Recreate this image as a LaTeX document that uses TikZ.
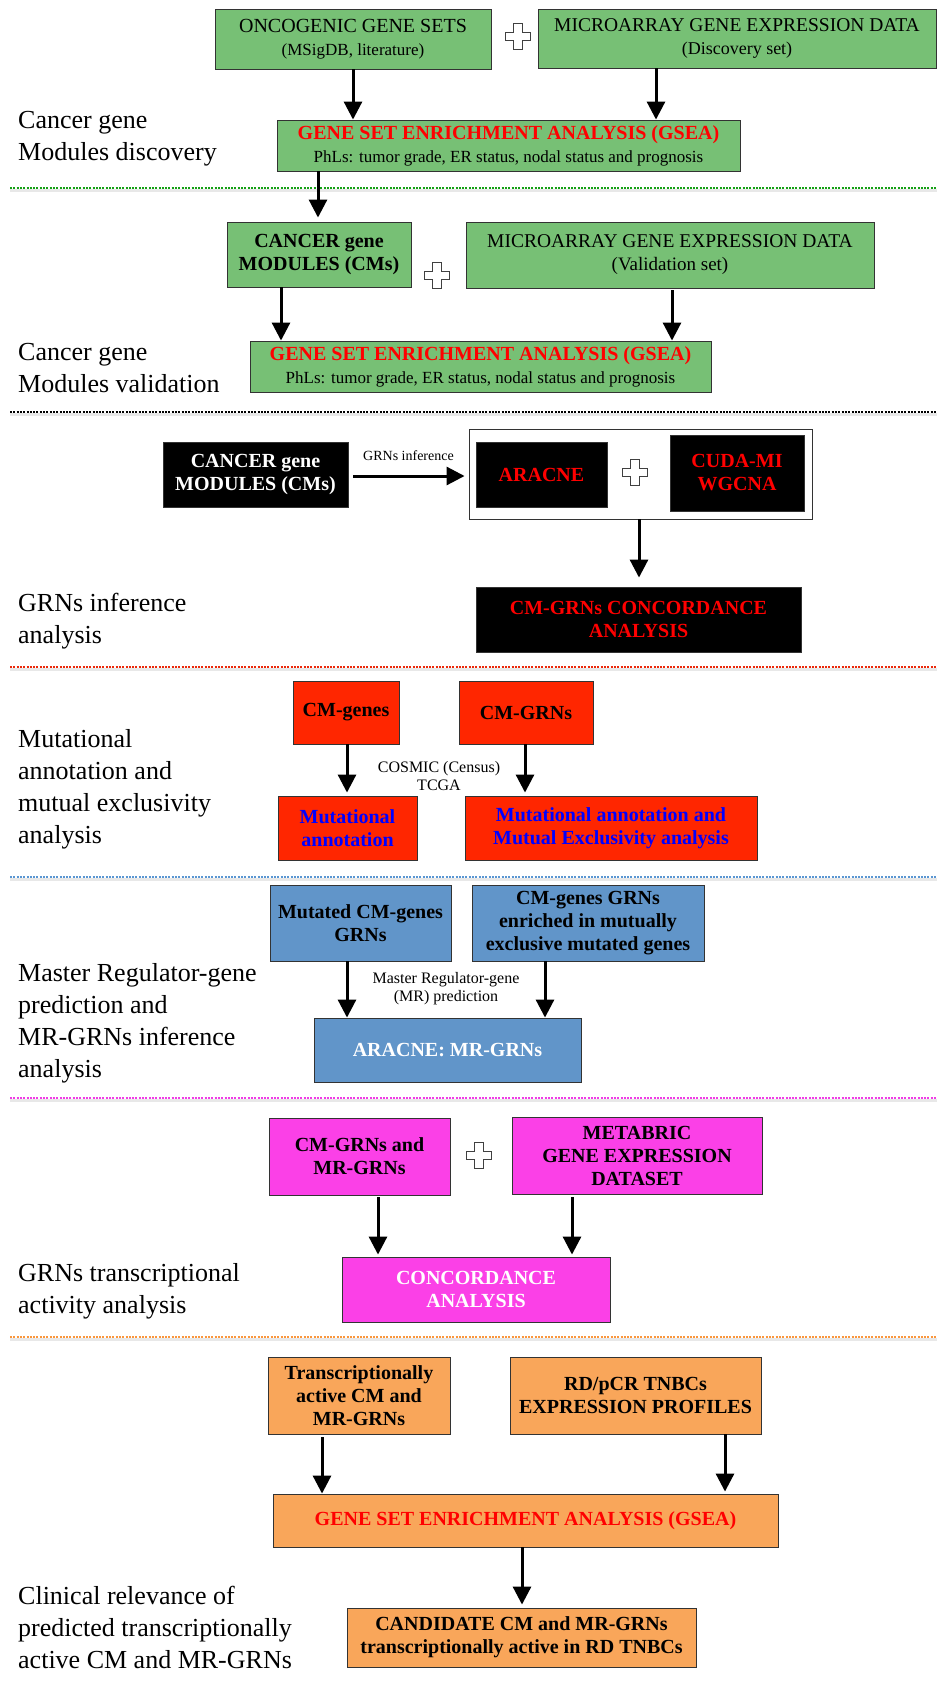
\documentclass[tikz,border=0pt]{standalone}
\usepackage{fontspec}
\setmainfont{Liberation Serif}
\usetikzlibrary{arrows.meta,calc}
\definecolor{greenF}{RGB}{119,192,117}
\definecolor{blueF}{RGB}{97,149,201}
\definecolor{redF}{RGB}{255,38,0}
\definecolor{magF}{RGB}{251,64,231}
\definecolor{orgF}{RGB}{249,166,90}
\definecolor{txtred}{RGB}{255,0,0}
\definecolor{txtblue}{RGB}{0,0,255}
\definecolor{dgreen}{RGB}{20,160,20}
\definecolor{dred}{RGB}{235,40,10}
\definecolor{dblue}{RGB}{90,150,210}
\definecolor{dmag}{RGB}{240,60,230}
\definecolor{dorg}{RGB}{250,150,60}
\newcommand\fsz[2]{\fontsize{#1}{#2}\selectfont}
\tikzset{
  box/.style={draw=black!80, line width=0.9pt, inner sep=0pt, align=center, font=\fsz{20}{23}},
  bfbox/.style={box, font=\bfseries\fsz{20}{23}},
  lbl/.style={anchor=west, align=left, inner sep=0pt, font=\fsz{26}{32}},
  small/.style={align=center, inner sep=0pt, font=\fsz{16}{18}},
  arr/.style={line width=3pt, -{Triangle[length=18pt,width=18pt]}},
  dotline/.style={line width=2.2pt, dash pattern=on 2pt off 1.3pt},
  shade/.style={line width=2.2pt, gray!18},
  plusmark/.pic={\draw[fill=white, draw=black!75, line width=0.8pt]
    (-4.5,-13) -- (4.5,-13) -- (4.5,-4) -- (12.5,-4) -- (12.5,4) -- (4.5,4)
    -- (4.5,13) -- (-4.5,13) -- (-4.5,4) -- (-12.5,4) -- (-12.5,-4) -- (-4.5,-4) -- cycle;}
}
\begin{document}
\begin{tikzpicture}[x=1pt,y=-1pt]
\useasboundingbox[fill=white] (0,0) rectangle (937,1686);

% ---------- separators ----------
\foreach \yy/\cc in {188/dgreen,412/black,667/dred,877/dblue,1098/dmag,1337/dorg}{
  \draw[shade] (10,\yy+2.5) -- (937,\yy+2.5);
  \draw[dotline,\cc] (10,\yy) -- (937,\yy);
}

% ---------- section 1 ----------
\node[box, fill=greenF, minimum width=276pt, minimum height=60pt] (onco) at (353,39)
  {ONCOGENIC GENE SETS\\{\fsz{17}{20}(MSigDB, literature)}};
\node[box, fill=greenF, minimum width=398pt, minimum height=59pt] (micro1) at (737,38.5)
  {{\fsz{19.5}{23}MICROARRAY GENE EXPRESSION DATA}\\{\fsz{18}{21}(Discovery set)}};
\pic at (518,36) {plusmark};
\node[box, fill=greenF, minimum width=463pt, minimum height=51pt] (gsea1) at (508.5,145.5)
  {{\bfseries\color{txtred}GENE SET ENRICHMENT ANALYSIS (GSEA)}\\{\fsz{17}{21}PhLs: tumor grade, ER status, nodal status and prognosis}};
\node[lbl] (l1) at (18,139) {Cancer gene\\Modules discovery};
\draw[arr] ([xshift=0pt]onco.south) -- (onco.south |- gsea1.north);
\draw[arr] ([xshift=-81pt]micro1.south) -- ([xshift=-81pt]micro1.south |- gsea1.north);

% ---------- section 2 ----------
\node[bfbox, fill=greenF, minimum width=184pt, minimum height=65pt] (cm1) at (319,254.5)
  {CANCER gene\\MODULES (CMs)};
\node[box, fill=greenF, minimum width=408pt, minimum height=66pt] (micro2) at (670,255)
  {{\fsz{19.5}{24}MICROARRAY GENE EXPRESSION DATA}\\{\fsz{19}{24}(Validation set)}};
\pic at (437,275) {plusmark};
\node[box, fill=greenF, minimum width=461pt, minimum height=51pt] (gsea2) at (480.5,366.5)
  {{\bfseries\color{txtred}GENE SET ENRICHMENT ANALYSIS (GSEA)}\\{\fsz{17}{21}PhLs: tumor grade, ER status, nodal status and prognosis}};
\node[lbl] (l2) at (18,368) {Cancer gene\\Modules validation};
\draw[arr, shorten >=4pt] ([xshift=-190.5pt]gsea1.south) -- ([xshift=-190.5pt]gsea1.south |- cm1.north);
\draw[arr] ([xshift=-38pt]cm1.south) -- ([xshift=-38pt]cm1.south |- gsea2.north);
\draw[arr] ([xshift=2pt,yshift=-2pt]micro2.south) -- ([xshift=2pt]micro2.south |- gsea2.north);

% ---------- section 3 ----------
\node[bfbox, fill=black, text=white, minimum width=185pt, minimum height=65pt] (cm2) at (255.5,474.5)
  {CANCER gene\\MODULES (CMs)};
\node[draw=black!80, line width=0.9pt, fill=white, minimum width=343pt, minimum height=90pt, inner sep=0pt] (outer) at (640.5,474) {};
\node[bfbox, fill=black, text=txtred, minimum width=131pt, minimum height=65pt] (aracne) at (541.5,474.5) {ARACNE};
\node[bfbox, fill=black, text=txtred, minimum width=134pt, minimum height=76pt] (cuda) at (737,473) {CUDA-MI\\WGCNA};
\pic at (635,472) {plusmark};
\node[bfbox, fill=black, text=txtred, minimum width=325pt, minimum height=65pt] (conc1) at (638.5,619.5)
  {CM-GRNs CONCORDANCE\\ANALYSIS};
\node[lbl] (l3) at (18,621) {GRNs inference\\analysis};
\draw[arr, shorten <=5pt, shorten >=4pt] ([yshift=-1.5pt]cm2.east) -- ([yshift=-1.5pt]cm2.east -| outer.west)
  node[midway, above=14pt, inner sep=0pt, font=\fsz{14}{16}] (gi) {GRNs inference};
\draw[arr, shorten >=9pt] ([xshift=-1.5pt]outer.south) -- ([xshift=-1.5pt]outer.south |- conc1.north);

% ---------- section 4 ----------
\node[bfbox, fill=redF, minimum width=106pt, minimum height=63pt] (cmgenes) at (346,712.5) {CM-genes};
\node[bfbox, fill=redF, minimum width=134pt, minimum height=63pt] (cmgrns) at (526,712.5) {CM-GRNs};
\node[bfbox, fill=redF, text=txtblue, minimum width=139pt, minimum height=64pt] (mutann) at (347.5,828)
  {Mutational\\annotation};
\node[bfbox, fill=redF, text=txtblue, minimum width=292pt, minimum height=64pt] (mutme) at (611,828)
  {Mutational annotation and\\Mutual Exclusivity analysis};
\node[small] (cosmic) at (439,776) {COSMIC (Census)\\TCGA};
\node[lbl] (l4) at (18,789) {Mutational\\annotation and\\mutual exclusivity\\analysis};
\draw[arr, shorten >=3pt] ([xshift=1pt]cmgenes.south) -- ([xshift=1pt]cmgenes.south |- mutann.north);
\draw[arr, shorten >=3pt] ([xshift=-1pt]cmgrns.south) -- ([xshift=-1pt]cmgrns.south |- mutme.north);

% ---------- section 5 ----------
\node[bfbox, fill=blueF, minimum width=181pt, minimum height=76pt] (mutcm) at (360.5,923)
  {Mutated CM-genes\\GRNs};
\node[bfbox, fill=blueF, minimum width=232pt, minimum height=76pt] (enr) at (588,923)
  {CM-genes GRNs\\enriched in mutually\\exclusive mutated genes};
\node[bfbox, fill=blueF, text=white, minimum width=267pt, minimum height=64pt] (mrgrn) at (447.5,1050)
  {ARACNE: MR-GRNs};
\node[small] (mrp) at (446,989) {Master Regulator-gene\\(MR) prediction};
\node[lbl] (l5) at (18,1023) {Master Regulator-gene\\prediction and\\MR-GRNs inference\\analysis};
\draw[arr] ([xshift=-13.5pt]mutcm.south) -- ([xshift=-13.5pt]mutcm.south |- mrgrn.north);
\draw[arr] ([xshift=-43pt]enr.south) -- ([xshift=-43pt]enr.south |- mrgrn.north);

% ---------- section 6 ----------
\node[bfbox, fill=magF, minimum width=181pt, minimum height=77pt] (cmmr) at (359.5,1156.5)
  {CM-GRNs and\\MR-GRNs};
\node[bfbox, fill=magF, minimum width=250pt, minimum height=77pt] (metab) at (637,1155.5)
  {METABRIC\\GENE EXPRESSION\\DATASET};
\pic at (479,1155) {plusmark};
\node[bfbox, fill=magF, text=white, minimum width=268pt, minimum height=65pt] (conc2) at (476,1289.5)
  {CONCORDANCE\\ANALYSIS};
\node[lbl] (l6) at (18,1291) {GRNs transcriptional\\activity analysis};
\draw[arr, shorten <=2pt, shorten >=2pt] ([xshift=18.5pt]cmmr.south) -- ([xshift=18.5pt]cmmr.south |- conc2.north);
\draw[arr, shorten <=3pt, shorten >=2pt] ([xshift=-65pt]metab.south) -- ([xshift=-65pt]metab.south |- conc2.north);

% ---------- section 7 ----------
\node[bfbox, fill=orgF, minimum width=182pt, minimum height=77pt] (trans) at (359,1395.5)
  {Transcriptionally\\active CM and\\MR-GRNs};
\node[bfbox, fill=orgF, minimum width=251pt, minimum height=77pt] (rdpcr) at (635.5,1395.5)
  {RD/pCR TNBCs\\EXPRESSION PROFILES};
\node[bfbox, fill=orgF, text=txtred, minimum width=505pt, minimum height=53pt] (gsea3) at (525.5,1520.5)
  {GENE SET ENRICHMENT ANALYSIS (GSEA)};
\node[bfbox, fill=orgF, minimum width=349pt, minimum height=59pt] (cand) at (521.5,1637.5)
  {CANDIDATE CM and MR-GRNs\\transcriptionally active in RD TNBCs};
\node[lbl] (l7) at (18,1627) {Clinical relevance of\\predicted transcriptionally\\active CM and MR-GRNs};
\draw[arr, shorten <=3pt] ([xshift=-37pt]trans.south) -- ([xshift=-37pt]trans.south |- gsea3.north);
\draw[arr, shorten >=2pt] ([xshift=89.5pt]rdpcr.south) -- ([xshift=89.5pt]rdpcr.south |- gsea3.north);
\draw[arr, shorten >=3pt] ([xshift=-3.5pt]gsea3.south) -- ([xshift=-3.5pt]gsea3.south |- cand.north);
\end{tikzpicture}
\end{document}
